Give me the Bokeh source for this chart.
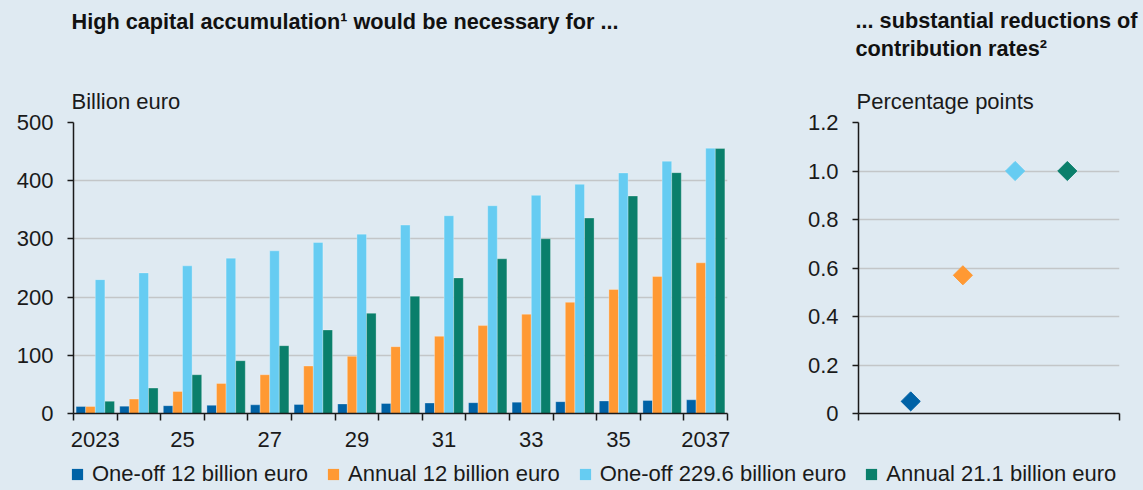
import numpy as np
from bokeh.plotting import figure
from bokeh.models import (Range1d, FixedTicker, Label, Legend, LegendItem,
                          ColumnDataSource, GlobalInlineStyleSheet)
from bokeh.transform import dodge
from bokeh.layouts import row, column
from bokeh.embed import file_html
from bokeh.resources import INLINE

# ---------------- data ----------------
years = list(range(2023, 2038))
x_label_years = [2023, 2025, 2027, 2029, 2031, 2033, 2035, 2037]
x_tick_labels = ["2023", "25", "27", "29", "31", "33", "35", "2037"]
left_y_ticks = [0, 100, 200, 300, 400, 500]

series_names = ["One-off 12 billion euro", "Annual 12 billion euro",
                "One-off 229.6 billion euro", "Annual 21.1 billion euro"]
oneoff_12 = [12, 12.6, 13.4, 14, 14.9, 15.5, 16.4, 17.2, 18, 18.6, 19.5, 20.3, 21.5, 22.4, 23.5]
annual_12 = [12, 24.7, 37.9, 51.7, 66.6, 81.5, 98.2, 114.8, 132.6, 151, 170.5, 191, 213, 235.3, 258.9]
oneoff_2296 = [230, 241.6, 253.7, 266.9, 279.5, 293.9, 308.2, 323.7, 339.8, 357, 374.8, 393.8, 413.3, 433.4, 455.8]
annual_211 = [21, 43.6, 66.6, 90.7, 116.5, 143.5, 172.2, 201.5, 233, 265.8, 300.2, 335.8, 373.7, 413.8, 455.2]

scenario_pos = [1, 2, 3, 4]
reduction_pp = [0.05, 0.57, 1.0, 1.0]
right_y_ticks = [0, 0.2, 0.4, 0.6, 0.8, 1.0, 1.2]
right_y_labels = ["0", "0.2", "0.4", "0.6", "0.8", "1.0", "1.2"]

left_title = "High capital accumulation\u00b9 would be necessary for ..."
right_title = ["... substantial reductions of", "contribution rates\u00b2"]
left_unit = "Billion euro"
right_unit = "Percentage points"

# ---------------- style ----------------
BG = "#dfeaf2"
COLORS = ["#0062a6", "#ff9933", "#66ccf2", "#0a7f6b"]
FONT = "Liberation Sans"
FS = "22px"
FS_TITLE = "21.7px"
TXT = "#1a1a1a"
GRID = "#c3c6c8"

W_LEFT, W_RIGHT = 790, 353
H_HEAD, H_LEG = 74, 32
H_CHART = 490 - H_HEAD - H_LEG
FRAME_TOP = 122 - H_HEAD      # frame top inside chart figure
FRAME_H = 291
DY = 8  # vertical correction for header labels


def bare(width, height):
    f = figure(width=width, height=height, x_range=Range1d(0, 1), y_range=Range1d(0, 1),
               output_backend="svg", toolbar_location=None, min_border=0,
               background_fill_color=BG, border_fill_color=BG, outline_line_color=None)
    f.axis.visible = False
    f.grid.visible = False
    return f


def txt(fig, x, y, text):
    fig.add_layout(Label(x=x, y=y, x_units="screen", y_units="screen", text=text,
                         text_font=FONT, text_font_size=FS_TITLE, text_font_style="bold",
                         text_color="#111111", text_baseline="alphabetic"))


def style_chart(p, unit):
    for ax in p.axis:
        ax.axis_line_color = TXT
        ax.axis_line_width = 1.5
        ax.major_tick_line_color = TXT
        ax.major_tick_line_width = 1.5
        ax.minor_tick_line_color = None
        ax.major_label_text_font = FONT
        ax.major_label_text_font_size = FS
        ax.major_label_text_color = TXT
    p.xgrid.visible = False
    p.ygrid.grid_line_color = GRID
    p.ygrid.grid_line_width = 1.3
    p.yaxis.major_tick_in = 0
    p.yaxis.major_tick_out = 6
    p.yaxis.major_label_standoff = 14
    p.title.text = unit
    p.title.align = "left"
    p.title.offset = -2
    p.title.standoff = 17
    p.title.text_font = FONT
    p.title.text_font_size = FS
    p.title.text_font_style = "normal"
    p.title.text_color = TXT


# ---------------- headers ----------------
left_head = bare(W_LEFT, H_HEAD)
txt(left_head, 71, H_HEAD - 29 + DY, left_title)

right_head = bare(W_RIGHT, H_HEAD)
txt(right_head, 65, H_HEAD - 28 + DY, right_title[0])
txt(right_head, 65, H_HEAD - 56 + DY, right_title[1])

# ---------------- left: bars ----------------
src = ColumnDataSource(dict(year=years, s0=oneoff_12, s1=annual_12, s2=oneoff_2296, s3=annual_211))

left = figure(width=W_LEFT, height=H_CHART, x_range=Range1d(2022.5, 2037.5), y_range=Range1d(0, 500),
              output_backend="svg", toolbar_location=None,
              min_border_left=73, min_border_right=W_LEFT - 727, min_border_top=FRAME_TOP,
              min_border_bottom=H_CHART - FRAME_TOP - FRAME_H,
              background_fill_color=BG, border_fill_color=BG, outline_line_color=None)

bw = 0.22
offsets = [-1.5 * bw, -0.5 * bw, 0.5 * bw, 1.5 * bw]
for i, (col, off) in enumerate(zip(COLORS, offsets)):
    left.vbar(x=dodge("year", off, range=left.x_range), top=f"s{i}", width=bw, source=src,
              fill_color=col, line_color="white", line_alpha=0.35, line_width=0.8)

style_chart(left, left_unit)
left.yaxis.ticker = FixedTicker(ticks=left_y_ticks)
left.ygrid.ticker = FixedTicker(ticks=left_y_ticks)
boundaries = [y - 0.5 for y in years] + [years[-1] + 0.5]
left.xaxis.ticker = FixedTicker(ticks=x_label_years, minor_ticks=boundaries)
left.xaxis.major_label_overrides = dict(zip(x_label_years, x_tick_labels))
left.xaxis.major_tick_out = 0
left.xaxis.major_tick_in = 0
left.xaxis.minor_tick_line_color = TXT
left.xaxis.minor_tick_line_width = 1.5
left.xaxis.minor_tick_out = 7
left.xaxis.minor_tick_in = 0
left.xaxis.major_label_standoff = 11

# ---------------- right: diamonds ----------------
right = figure(width=W_RIGHT, height=H_CHART, x_range=Range1d(0, 5), y_range=Range1d(0, 1.2),
               output_backend="svg", toolbar_location=None,
               min_border_left=858 - W_LEFT, min_border_right=1143 - 1119, min_border_top=FRAME_TOP,
               min_border_bottom=H_CHART - FRAME_TOP - FRAME_H,
               background_fill_color=BG, border_fill_color=BG, outline_line_color=None)
right.scatter(x=scenario_pos, y=reduction_pp, marker="square", angle=np.pi / 4, size=13.5,
              fill_color=COLORS, line_color=COLORS)
style_chart(right, right_unit)
right.yaxis.ticker = FixedTicker(ticks=right_y_ticks)
right.ygrid.ticker = FixedTicker(ticks=right_y_ticks)
right.yaxis.major_label_overrides = dict(zip(right_y_ticks, right_y_labels))
right.xaxis.ticker = FixedTicker(ticks=[0, 5])
right.xaxis.major_label_text_color = None
right.xaxis.major_tick_out = 7
right.xaxis.major_tick_in = 0

# ---------------- legend strip ----------------
# legend swatches come from the bar series themselves; the strip's x-range keeps the bars out of view
leg = bare(1143, H_LEG)
items = []
for i, (name, col) in enumerate(zip(series_names, COLORS)):
    r = leg.vbar(x="year", top=f"s{i}", width=bw, source=src, fill_color=col, line_color=None)
    items.append(LegendItem(label=name, renderers=[r]))
legend = Legend(items=items, orientation="horizontal", location=(70, 3),
                glyph_width=14, glyph_height=14, label_standoff=8, spacing=18,
                padding=0, margin=0, border_line_color=None, background_fill_alpha=0,
                label_text_font=FONT, label_text_font_size=FS, label_text_color=TXT)
leg.add_layout(legend)

layout = column(row(left_head, right_head), row(left, right), leg,
                stylesheets=[GlobalInlineStyleSheet(css=f"body {{ background-color: {BG}; }}")])

open("out.html", "w").write(file_html(layout, INLINE))
